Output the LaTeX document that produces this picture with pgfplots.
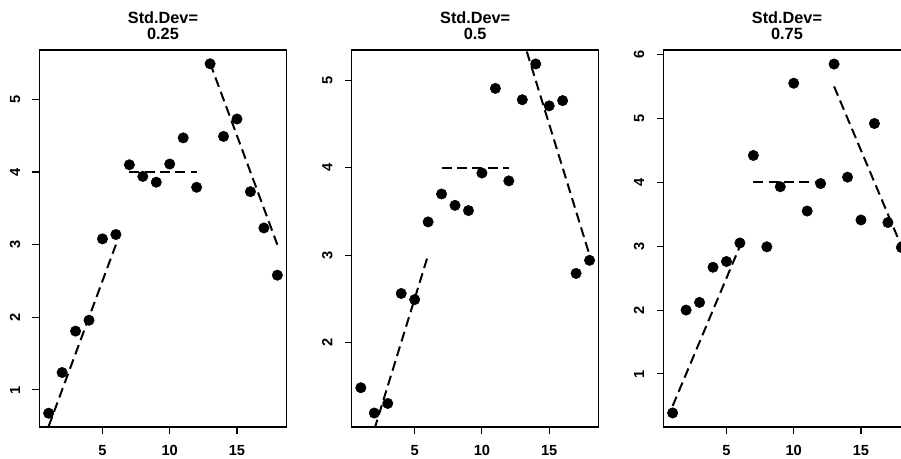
\documentclass[border=0pt]{standalone}
\usepackage{fontspec}
\setmainfont{Liberation Sans}
\usepackage{pgfplots}
\pgfplotsset{compat=1.18}

% one pixel of the reference = 0.75pt
\pgfplotsset{
  rpanel/.style={
    scale only axis, width=185.25pt, height=282.75pt,
    anchor=south west,
    xmin=0.32, xmax=18.68,
    xtick={5,10,15},
    axis line style={line width=0.8pt},
    tick style={line width=0.8pt, black},
    tick align=outside, major tick length=5.25pt,
    xtick pos=bottom, ytick pos=left,
    /pgf/number format/assume math mode=true,
    tick label style={font=\fontsize{11}{12}\selectfont\bfseries},
    xticklabel style={inner sep=0pt, anchor=north, yshift=-8.5pt},
    yticklabel style={xshift=-9pt, rotate=90, anchor=south, inner sep=0pt},
    title style={font=\fontsize{12.2}{12}\selectfont\bfseries, align=center,
                 at={(0.5,1)}, anchor=south, inner sep=0pt, yshift=1.5pt},
  },
  pts/.style={only marks, mark=*, mark size=3.9pt, black},
  fit/.style={black, line width=1.5pt, dash pattern=on 7.5pt off 4pt},
}

\begin{document}
\begin{tikzpicture}
\useasboundingbox (0,0) rectangle (675.75pt,343.5pt);
\clip (0,0) rectangle (675.75pt,343.5pt);

% panel 1
\begin{axis}[rpanel, at={(29.625pt,23.25pt)}, ymin=0.49, ymax=5.68,
  ytick={1,2,3,4,5}, title={Std.Dev=\\0.25}]
\addplot[fit] coordinates {(1,0.5) (6,3)};
\addplot[fit] coordinates {(7,4) (12,4)};
\addplot[fit] coordinates {(13,5.5) (18,3)};
\addplot[pts] coordinates {
  (1,0.68) (2,1.24) (3,1.81) (4,1.96) (5,3.08) (6,3.14)
  (7,4.10) (8,3.94) (9,3.86) (10,4.11) (11,4.47) (12,3.79)
  (13,5.49) (14,4.49) (15,4.73) (16,3.73) (17,3.23) (18,2.58)};
\end{axis}

% panel 2
\begin{axis}[rpanel, at={(263.775pt,23.25pt)}, ymin=1.03, ymax=5.35,
  ytick={2,3,4,5}, title={Std.Dev=\\0.5}]
\addplot[fit] coordinates {(1,0.5) (6,3)};
\addplot[fit] coordinates {(7,4) (12,4)};
\addplot[fit] coordinates {(13,5.5) (18,3)};
\addplot[pts] coordinates {
  (1,1.48) (2,1.19) (3,1.30) (4,2.56) (5,2.49) (6,3.38)
  (7,3.70) (8,3.57) (9,3.51) (10,3.94) (11,4.91) (12,3.85)
  (13,4.78) (14,5.19) (15,4.71) (16,4.77) (17,2.79) (18,2.94)};
\end{axis}

% panel 3
\begin{axis}[rpanel, at={(497.625pt,23.25pt)}, ymin=0.17, ymax=6.07,
  ytick={1,2,3,4,5,6}, title={Std.Dev=\\0.75}]
\addplot[fit] coordinates {(1,0.5) (6,3)};
\addplot[fit] coordinates {(7,4) (12,4)};
\addplot[fit] coordinates {(13,5.5) (18,3)};
\addplot[pts] coordinates {
  (1,0.39) (2,2.00) (3,2.12) (4,2.67) (5,2.76) (6,3.05)
  (7,4.42) (8,2.99) (9,3.93) (10,5.55) (11,3.55) (12,3.98)
  (13,5.85) (14,4.08) (15,3.41) (16,4.92) (17,3.37) (18,2.98)};
\end{axis}
\end{tikzpicture}
\end{document}
